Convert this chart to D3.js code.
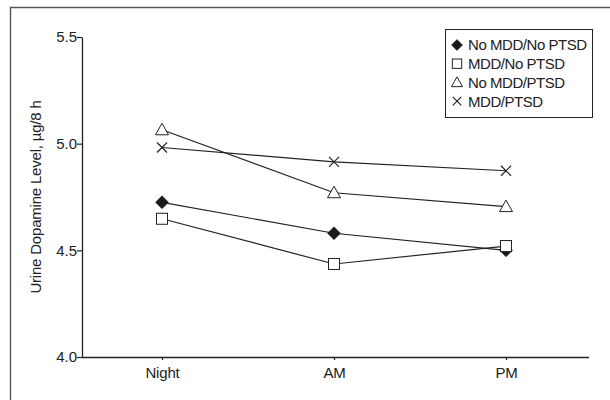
<!DOCTYPE html>
<html><head><meta charset="utf-8">
<script src="https://cdn.jsdelivr.net/npm/d3@7"></script>
<style>
body{margin:0;background:#fff;}
text{font-family:"Liberation Sans Narrow","Arial Narrow","Liberation Sans",sans-serif;fill:#222;}
</style></head>
<body><svg id="c" width="610" height="400"></svg>
<script>
const categories = ["Night","AM","PM"];
const seriesNames = ["No MDD/No PTSD","MDD/No PTSD","No MDD/PTSD","MDD/PTSD"];
const noMddNoPtsd = [4.725, 4.58, 4.50];
const mddNoPtsd   = [4.648, 4.436, 4.52];
const noMddPtsd   = [5.065, 4.77, 4.705];
const mddPtsd     = [4.982, 4.915, 4.873];
const yTicks = [4.0, 4.5, 5.0, 5.5];
const yLabel = "Urine Dopamine Level, µg/8 h";

const seriesValues = [noMddNoPtsd, mddNoPtsd, noMddPtsd, mddPtsd];
const symbols = ["diamond","square","triangle","cross"];

const svg = d3.select("#c");
const ink = "#222";
const fam = "'Liberation Sans Narrow','Arial Narrow','Liberation Sans',sans-serif";
// outer frame
svg.append("path").attr("d","M10.5,400 V7.5 H610").attr("fill","none").attr("stroke","#555").attr("stroke-width",1.4);

const x = d3.scalePoint().domain(categories).range([162,506]);
const y = d3.scaleLinear().domain([4.0,5.5]).range([357,37]);

const yAx = svg.append("g").attr("transform","translate(82,0)")
  .call(d3.axisLeft(y).tickValues(yTicks).tickFormat(d3.format(".1f")).tickSize(5).tickSizeOuter(0));
yAx.select(".domain").attr("stroke",ink).attr("stroke-width",1.3);
yAx.selectAll(".tick line").attr("stroke",ink).attr("stroke-width",1.2);
yAx.selectAll(".tick text").attr("font-size",15).attr("x",-5).style("font-family",fam).attr("fill",ink);

const xAx = svg.append("g").attr("transform","translate(0,357)")
  .call(d3.axisBottom(x).tickSize(3).tickSizeOuter(0));
xAx.select(".domain").attr("d","M82,0.5H589").attr("stroke",ink).attr("stroke-width",1.3);
xAx.selectAll(".tick line").attr("stroke",ink).attr("stroke-width",1.2);
xAx.selectAll(".tick text").attr("font-size",15).attr("dy","1.0em").style("font-family",fam).style("letter-spacing","-0.2px").attr("fill",ink);

svg.append("text").attr("transform","translate(41,197) rotate(-90)")
  .attr("text-anchor","middle").attr("font-size",15).style("letter-spacing","-0.2px").text(yLabel);

function drawSym(g, type, cx, cy, s){
  s = s||1;
  if(type==="diamond"){
    g.append("path").attr("d",`M${cx},${cy-6.5*s}L${cx+6.5*s},${cy}L${cx},${cy+6.5*s}L${cx-6.5*s},${cy}Z`).attr("fill","#1a1a1a").attr("stroke","#1a1a1a").attr("stroke-width",0.5);
  } else if(type==="square"){
    g.append("rect").attr("x",cx-5.5*s).attr("y",cy-5.5*s).attr("width",11*s).attr("height",11*s).attr("fill","#fff").attr("stroke",ink).attr("stroke-width",1);
  } else if(type==="triangle"){
    g.append("path").attr("d",`M${cx},${cy-6.5*s}L${cx+6.5*s},${cy+5*s}L${cx-6.5*s},${cy+5*s}Z`).attr("fill","#fff").attr("stroke",ink).attr("stroke-width",1);
  } else {
    const r=5*s;
    g.append("path").attr("d",`M${cx-r},${cy-r}L${cx+r},${cy+r}M${cx-r},${cy+r}L${cx+r},${cy-r}`).attr("fill","none").attr("stroke",ink).attr("stroke-width",1.2);
  }
}

const line = d3.line().x((d,i)=>x(categories[i])).y(d=>y(d));
const gLines = svg.append("g");
seriesValues.forEach(vals=>{
  gLines.append("path").datum(vals).attr("d",line).attr("fill","none").attr("stroke",ink).attr("stroke-width",1.2);
});
const gSym = svg.append("g");
[1,2,3,0].forEach(si=>{
  seriesValues[si].forEach((v,i)=>drawSym(gSym, symbols[si], x(categories[i]), y(v)));
});
// square drawn above diamond at PM as in reference
drawSym(gSym, "square", x(categories[2]), y(mddNoPtsd[2]));

// legend
const lg = svg.append("g");
lg.append("rect").attr("x",445.5).attr("y",29.5).attr("width",147).attr("height",88).attr("fill","#fff").attr("stroke",ink).attr("stroke-width",1);
seriesNames.forEach((n,i)=>{
  const cy = 45 + i*18.7;
  drawSym(lg, symbols[i], 457, cy, 0.85);
  lg.append("text").attr("x",468).attr("y",cy).attr("dy","0.36em").attr("font-size",15).style("letter-spacing","-0.45px").text(n);
});
</script></body></html>
